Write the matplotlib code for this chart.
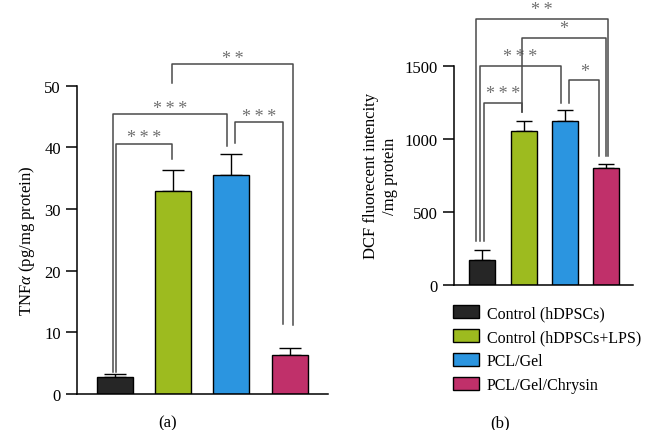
import matplotlib.pyplot as plt
from matplotlib.patches import Patch

plt.rcParams['font.family'] = ['Liberation Serif', 'DejaVu Serif']
plt.rcParams['mathtext.fontset'] = 'custom'
plt.rcParams['mathtext.rm'] = 'Liberation Serif'
plt.rcParams['mathtext.it'] = 'Liberation Serif:italic'

groups = ['Control (hDPSCs)', 'Control (hDPSCs+LPS)', 'PCL/Gel', 'PCL/Gel/Chrysin']
colors = ['#262626', '#9dbb1f', '#2b95e0', '#c0306a']

tnf_mean = [2.7, 33.0, 35.6, 6.4]
tnf_err = [0.5, 3.4, 3.4, 1.0]

dcf_mean = [170, 1055, 1120, 800]
dcf_err = [65, 68, 76, 27]

# brackets: (bar i, bar j, x offset i, x offset j, top, leg bottom i, leg bottom j, label)
tnf_sig = [
    (0, 1, 0.01, -0.02, 40.6, 3.6, 38.1, '***'),
    (0, 2, -0.03, -0.07, 45.4, 3.6, 40.2, '***'),
    (2, 3, 0.07, -0.11, 44.1, 40.7, 11.3, '***'),
    (1, 3, -0.02, 0.06, 53.5, 50.5, 11.2, '**'),
]
dcf_sig = [
    (0, 1, 0.04, -0.05, 1245, 300, 1182, '***'),
    (0, 2, -0.06, -0.10, 1500, 300, 1245, '***'),
    (2, 3, 0.11, -0.17, 1400, 1245, 884, '*'),
    (1, 3, -0.04, 0.0, 1690, 1182, 884, '*'),
    (0, 3, -0.16, 0.04, 1820, 300, 884, '**'),
]

fig = plt.figure(figsize=(6.46, 4.31), dpi=100)


def draw_panel(ax, means, errs, sig, width, capsize, ymax, yticks, star_gap):
    x = range(len(means))
    ax.bar(x, means, width=width, color=colors, edgecolor='black', linewidth=1.0, zorder=2)
    ax.errorbar(x, means, yerr=[[0] * len(errs), errs], fmt='none', ecolor='black',
                elinewidth=1.0, capsize=capsize, capthick=1.0, zorder=1)
    for i, j, oi, oj, top, bi, bj, lab in sig:
        xi, xj = i + oi, j + oj
        ax.plot([xi, xi, xj, xj], [bi, top, top, bj], color='#4a4a4a', lw=1.1,
                clip_on=False, zorder=3)
        ax.text((xi + xj) / 2, top + star_gap, '\u2009'.join(lab), ha='center',
                va='bottom', fontsize=13, color='#707070', clip_on=False)
    ax.set_ylim(0, ymax)
    ax.set_yticks(yticks)
    ax.set_xticks([])
    ax.spines['top'].set_visible(False)
    ax.spines['right'].set_visible(False)
    ax.spines['left'].set_linewidth(1.1)
    ax.spines['bottom'].set_linewidth(1.1)
    ax.tick_params(axis='y', length=8, width=1.1, labelsize=12)
    ax.set_facecolor('none')


ax1 = fig.add_axes([0.1192, 0.0835, 0.3885, 0.7153])
draw_panel(ax1, tnf_mean, tnf_err, tnf_sig, 0.62, 8, 50, [0, 10, 20, 30, 40, 50], -0.4)
ax1.set_xlim(-0.655, 3.66)
ax1.set_ylabel('TNF$\\alpha$ (pg/mg protein)', fontsize=12, labelpad=5)

ax2 = fig.add_axes([0.7028, 0.3371, 0.2771, 0.5081])
draw_panel(ax2, dcf_mean, dcf_err, dcf_sig, 0.63, 5.5, 1500, [0, 500, 1000, 1500], 5)
ax2.set_xlim(-0.685, 3.65)
ax2.set_ylabel('DCF fluorecent intencity\n/mg protein', fontsize=12, labelpad=5)

handles = [Patch(facecolor=c, edgecolor='black', linewidth=1.0) for c in colors]
fig.legend(handles, groups, loc='upper left', bbox_to_anchor=(453 / 646, 1 - 306 / 431),
           frameon=False, fontsize=11.5, handlelength=1.6, handleheight=0.85,
           handletextpad=0.5, labelspacing=0.5, borderpad=0, borderaxespad=0)

fig.text(168 / 646, 1 - 423 / 431, '(a)', ha='center', va='center', fontsize=12)
fig.text(500 / 646, 1 - 423 / 431, '(b)', ha='center', va='center', fontsize=12)

fig.savefig('out.png', dpi=100)
